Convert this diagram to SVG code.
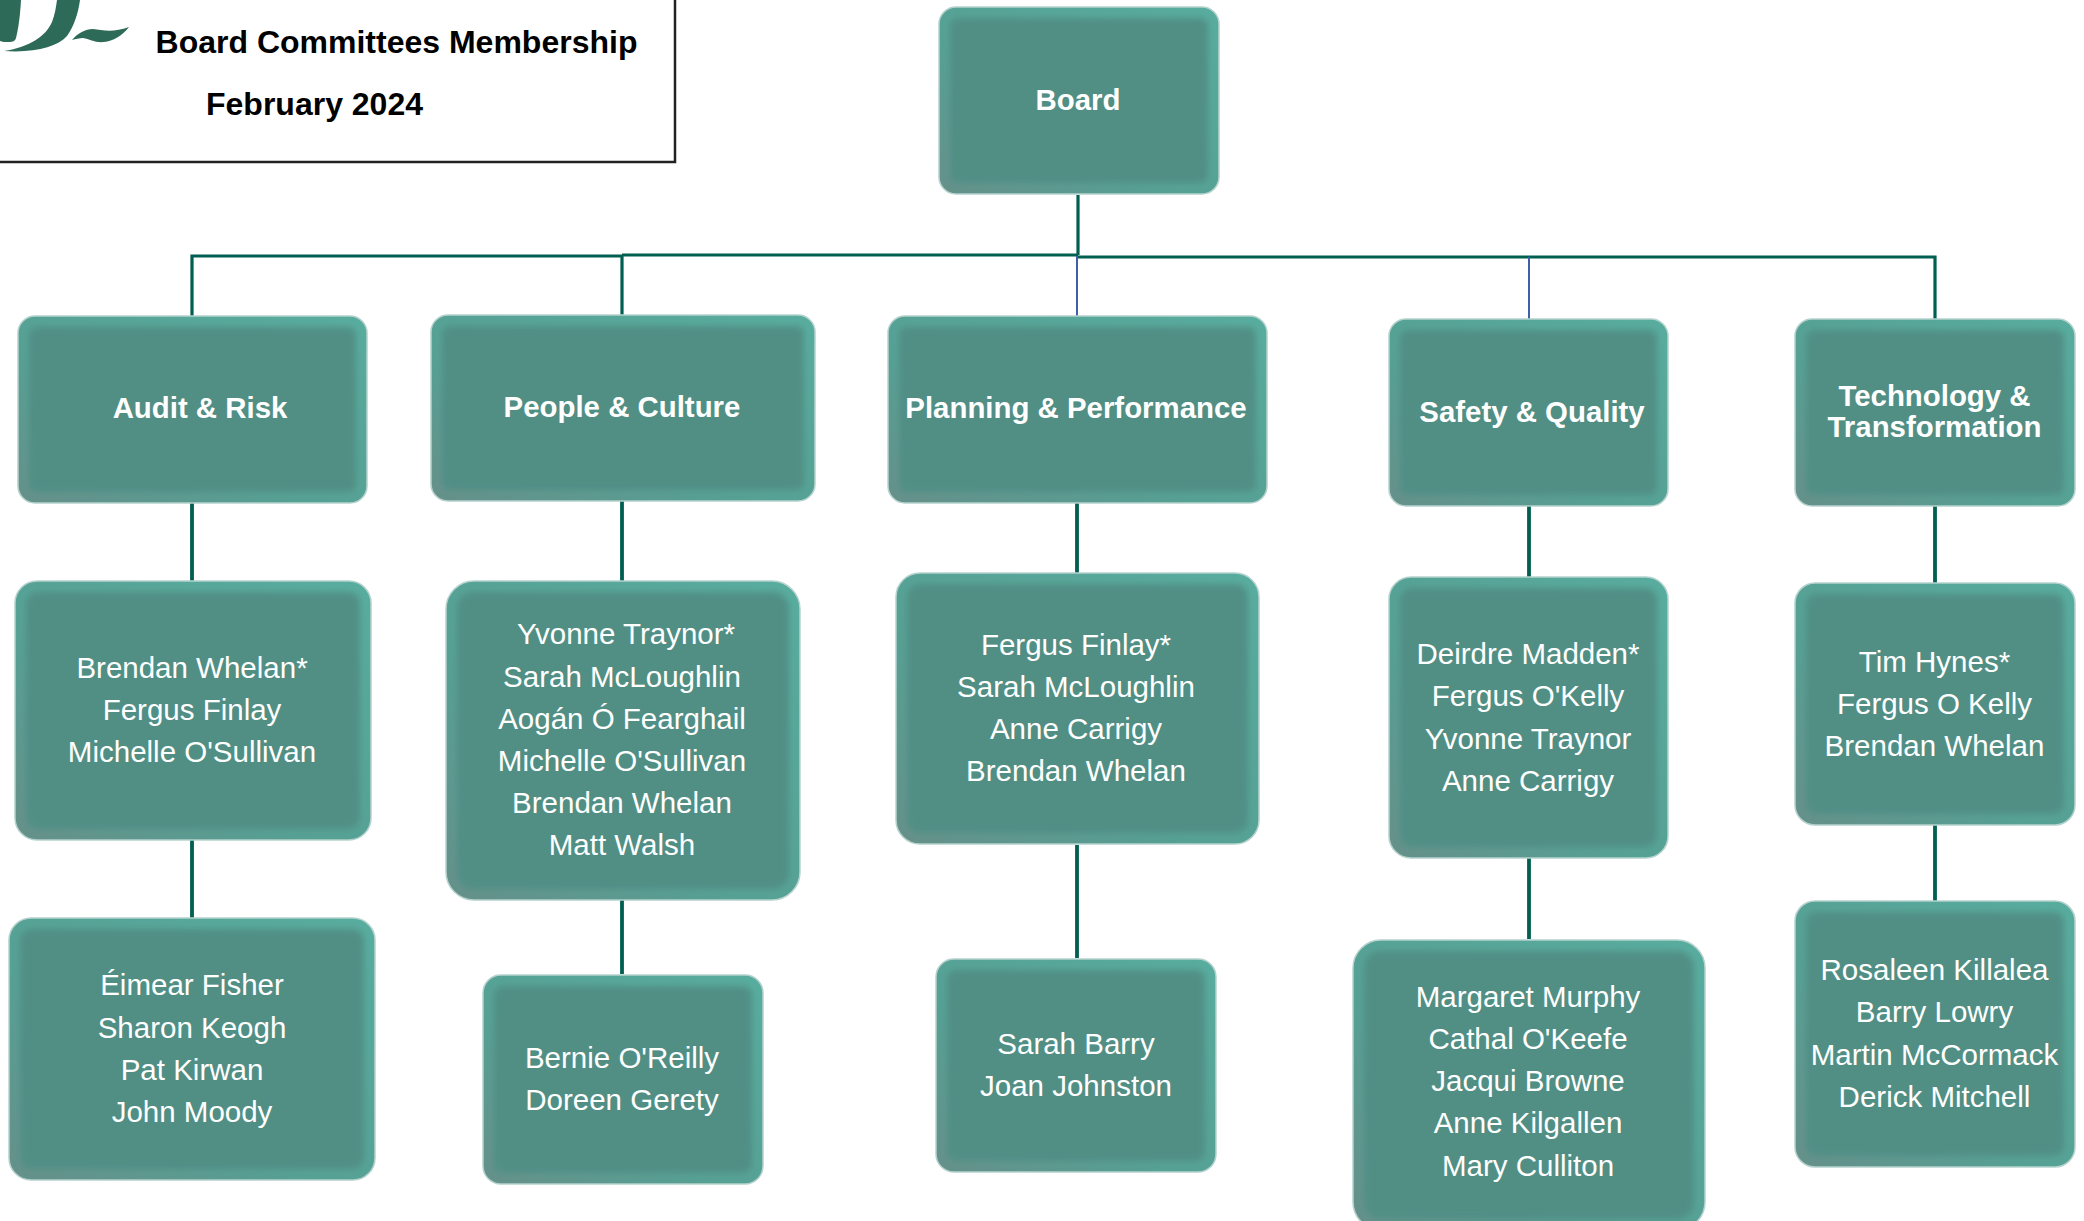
<svg xmlns="http://www.w3.org/2000/svg" width="2084" height="1221" viewBox="0 0 2084 1221">
<defs>
<linearGradient id="edge" x1="0" y1="1" x2="1" y2="0"><stop offset="0" stop-color="#66908a"/><stop offset="0.4" stop-color="#56a094"/><stop offset="1" stop-color="#58ad9f"/></linearGradient>
<filter id="soft" x="-10%" y="-10%" width="120%" height="120%"><feGaussianBlur stdDeviation="3"/></filter>
</defs>
<style>
text{font-family:"Liberation Sans",Arial,sans-serif;text-anchor:middle}
.o{fill:url(#edge);stroke:#b5d2cd;stroke-width:1.5}
.i{fill:#518f85;filter:url(#soft)}
.n{fill:#fff;font-size:29.5px}
.h{fill:#fff;font-size:29.4px;font-weight:bold}
.t{fill:#000;font-size:32px;font-weight:bold}
.c{stroke:#005f50;stroke-width:3.200;fill:none}
.b{stroke:#3f5fa8;stroke-width:2;fill:none}
</style>
<g id="title-box">
<path d="M0 162H675V0" fill="none" stroke="#222" stroke-width="2.500"/>
<path d="M0 0H21C20 18 18 30 16 38C15 41 13 42 9 42C5 42 2 42 0 41Z" fill="#2d6a57"/>
<path d="M57 0H80C78 14 74 26 67 36C57 47 35 53 4 51C30 47 46 36 52 22C55 14 56 7 57 0Z" fill="#2d6a57"/>
<path d="M72 40C78 33 85 29 93 29C102 30 113 33 129 27C122 36 113 41 104 42C95 43 90 39 83 38C79 38 76 39 72 40Z" fill="#2d6a57"/>
<text class="t" x="396.500" y="53">Board Committees Membership</text>
<text class="t" x="314.500" y="115">February 2024</text>
</g>
<g id="connectors">
<path class="c" d="M1078 195V255M622 255H1078M192 316V256H622M622 255V315M1078 257H1935V319"/>
<path class="c" style="stroke-width:3.800" d="M192 503V581M192 840V918M622 501V581M622 900V974M1077 503V573M1077 845V958M1529 506V577M1529 858V939M1935 506V583M1935 825V901"/>
<path class="b" d="M1077 256V316M1529 257V319"/>
</g>
<g id="board"><rect class="o" x="939" y="7" width="280" height="187" rx="17"/><rect class="i" x="950" y="18" width="258" height="165" rx="8"/><text class="h" x="1078" y="110">Board</text></g>
<g id="audit-risk"><rect class="o" x="18" y="316" width="349" height="187" rx="17"/><rect class="i" x="29" y="327" width="327" height="165" rx="8"/><text class="h" x="200" y="418">Audit &amp; Risk</text></g>
<g id="people-culture"><rect class="o" x="431" y="315" width="384" height="186" rx="17"/><rect class="i" x="442" y="326" width="362" height="164" rx="8"/><text class="h" x="622" y="417">People &amp; Culture</text></g>
<g id="planning-performance"><rect class="o" x="888" y="316" width="379" height="187" rx="17"/><rect class="i" x="899" y="327" width="357" height="165" rx="8"/><text class="h" x="1076" y="418">Planning &amp; Performance</text></g>
<g id="safety-quality"><rect class="o" x="1389" y="319" width="279" height="187" rx="17"/><rect class="i" x="1400" y="330" width="257" height="165" rx="8"/><text class="h" x="1532" y="422">Safety &amp; Quality</text></g>
<g id="technology-transformation"><rect class="o" x="1795" y="319" width="280" height="187" rx="17"/><rect class="i" x="1806" y="330" width="258" height="165" rx="8"/><text class="h" x="1934.500" y="406">Technology &amp;</text><text class="h" x="1934.500" y="437">Transformation</text></g>

<g id="audit-members"><rect class="o" x="15" y="581" width="356" height="259" rx="22"/><rect class="i" x="26" y="592" width="334" height="237" rx="12"/><text class="n" x="192" y="678">Brendan Whelan*</text><text class="n" x="192" y="720">Fergus Finlay</text><text class="n" x="192" y="762">Michelle O'Sullivan</text></g>
<g id="people-members"><rect class="o" x="446" y="581" width="354" height="319" rx="28"/><rect class="i" x="457" y="592" width="332" height="297" rx="16"/><text class="n" x="626" y="644">Yvonne Traynor*</text><text class="n" x="622" y="686.500">Sarah McLoughlin</text><text class="n" x="622" y="728.500">Aogán Ó Fearghail</text><text class="n" x="622" y="771">Michelle O'Sullivan</text><text class="n" x="622" y="813">Brendan Whelan</text><text class="n" x="622" y="855">Matt Walsh</text></g>
<g id="planning-members"><rect class="o" x="896" y="573" width="363" height="271" rx="24"/><rect class="i" x="907" y="584" width="341" height="249" rx="13"/><text class="n" x="1076" y="655">Fergus Finlay*</text><text class="n" x="1076" y="697">Sarah McLoughlin</text><text class="n" x="1076" y="739">Anne Carrigy</text><text class="n" x="1076" y="781">Brendan Whelan</text></g>
<g id="safety-members"><rect class="o" x="1389" y="577" width="279" height="281" rx="22"/><rect class="i" x="1400" y="588" width="257" height="259" rx="12"/><text class="n" x="1528" y="664">Deirdre Madden*</text><text class="n" x="1528" y="706">Fergus O'Kelly</text><text class="n" x="1528" y="749">Yvonne Traynor</text><text class="n" x="1528" y="791">Anne Carrigy</text></g>
<g id="technology-members"><rect class="o" x="1795" y="583" width="280" height="242" rx="20"/><rect class="i" x="1806" y="594" width="258" height="220" rx="10"/><text class="n" x="1934.500" y="671.500">Tim Hynes*</text><text class="n" x="1934.500" y="713.500">Fergus O Kelly</text><text class="n" x="1934.500" y="755.500">Brendan Whelan</text></g>

<g id="audit-attendees"><rect class="o" x="9" y="918" width="366" height="262" rx="22"/><rect class="i" x="20" y="929" width="344" height="240" rx="12"/><text class="n" x="192" y="995">Éimear Fisher</text><text class="n" x="192" y="1038">Sharon Keogh</text><text class="n" x="192" y="1080">Pat Kirwan</text><text class="n" x="192" y="1122">John Moody</text></g>
<g id="people-attendees"><rect class="o" x="483" y="975" width="280" height="209" rx="18"/><rect class="i" x="494" y="986" width="258" height="187" rx="9"/><text class="n" x="622" y="1068">Bernie O'Reilly</text><text class="n" x="622" y="1110">Doreen Gerety</text></g>
<g id="planning-attendees"><rect class="o" x="936" y="959" width="280" height="213" rx="18"/><rect class="i" x="947" y="970" width="258" height="191" rx="9"/><text class="n" x="1076" y="1053.500">Sarah Barry</text><text class="n" x="1076" y="1095.500">Joan Johnston</text></g>
<g id="safety-attendees"><rect class="o" x="1353" y="940" width="352" height="290" rx="28"/><rect class="i" x="1364" y="951" width="330" height="268" rx="16"/><text class="n" x="1528" y="1006.500">Margaret Murphy</text><text class="n" x="1528" y="1048.500">Cathal O'Keefe</text><text class="n" x="1528" y="1091">Jacqui Browne</text><text class="n" x="1528" y="1133">Anne Kilgallen</text><text class="n" x="1528" y="1175.500">Mary Culliton</text></g>
<g id="technology-attendees"><rect class="o" x="1795" y="901" width="280" height="266" rx="20"/><rect class="i" x="1806" y="912" width="258" height="244" rx="10"/><text class="n" x="1934.500" y="980">Rosaleen Killalea</text><text class="n" x="1934.500" y="1022">Barry Lowry</text><text class="n" x="1934.500" y="1065">Martin McCormack</text><text class="n" x="1934.500" y="1107">Derick Mitchell</text></g>
</svg>
